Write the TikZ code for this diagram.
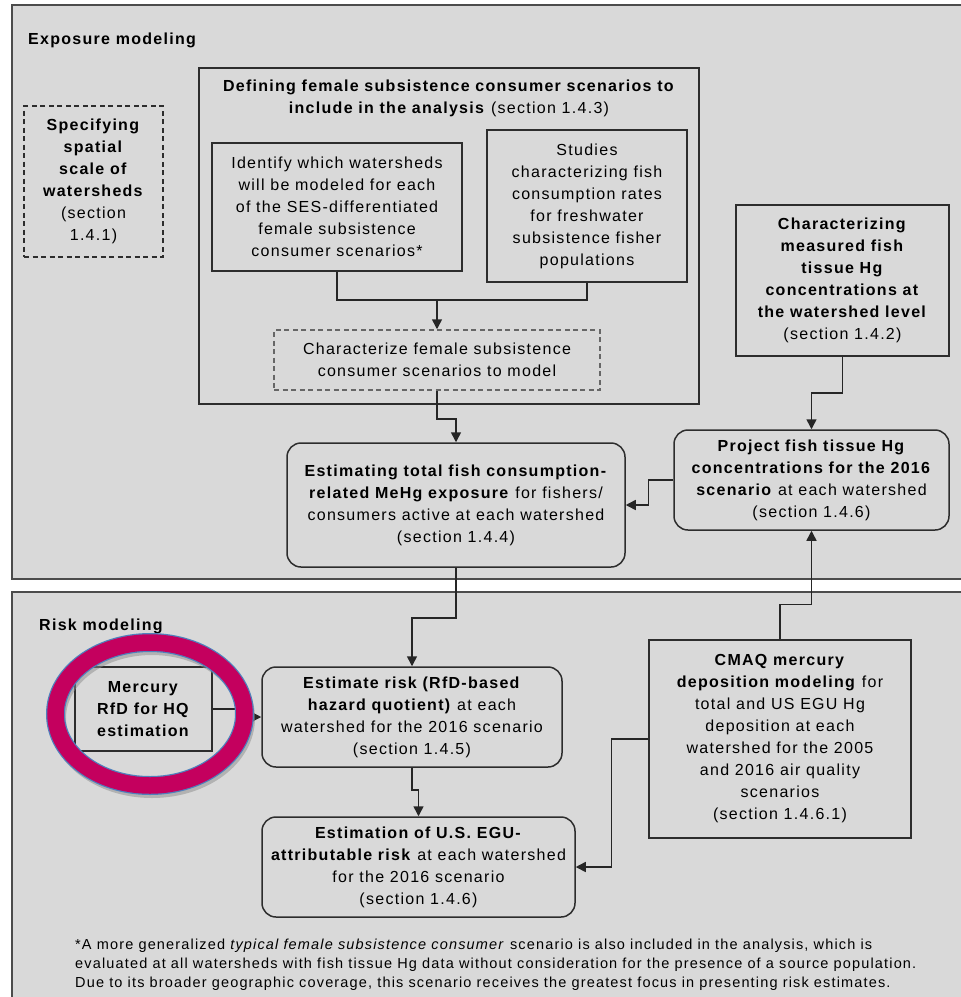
\documentclass[tikz,border=0pt]{standalone}
\usepackage{fontspec}
\setmainfont{Liberation Sans}[LetterSpace=8]
\usetikzlibrary{positioning, arrows.meta}
\definecolor{panelgray}{RGB}{217,217,217}
\definecolor{edgegray}{RGB}{45,45,45}
\definecolor{ringred}{RGB}{196,0,94}
\definecolor{ringblue}{RGB}{79,129,189}
\tikzset{
  box/.style={draw=edgegray, line width=1.5pt, align=center, inner sep=0pt},
  rbox/.style={box, rounded corners=14pt},
  dbox/.style={box, dash pattern=on 5pt off 3.5pt},
  link/.style={line width=1.5pt, black!85},
  arr/.style={link, -{Triangle[length=10pt,width=10pt]}},
  panel/.style={fill=panelgray, draw=black!70, line width=2pt},
  head/.style={anchor=base west, inner sep=0pt, font=\fontsize{16}{22}\selectfont\bfseries}
}

\begin{document}
\begin{tikzpicture}[x=1pt, y=-1pt, font=\fontsize{16}{22}\selectfont]
\useasboundingbox (0,0) rectangle (961,997);
% the two shaded panels
\draw[panel] (12,5) rectangle (990,579);
\draw[panel] (12,592) rectangle (990,1010);
\node[head] (expo) at (28,44) {Exposure modeling};
\node[head] (riskhead) at (39,630) {Risk modeling};

% exposure modeling
\node (spatial) [dbox, minimum width=139pt, minimum height=151pt] at (93.5,181.5)
  {\textbf{Specifying}\\ \textbf{spatial}\\ \textbf{scale of}\\ \textbf{watersheds}\\ (section\\ 1.4.1)};
\node (defining) [box, minimum width=500pt, minimum height=336pt] at (449,236) {};
\node (defhead) [below=9pt of defining.north, align=center]
  {\textbf{Defining female subsistence consumer scenarios to}\\ \textbf{include in the analysis} (section 1.4.3)};
\node (identify) [box, minimum width=250pt, minimum height=128pt] at (337,207)
  {Identify which watersheds\\ will be modeled for each\\ of the SES-differentiated\\ female subsistence\\ consumer scenarios*};
\node (studies) [box, minimum width=200pt, minimum height=152pt] at (587,206)
  {Studies\\ characterizing fish\\ consumption rates\\ for freshwater\\ subsistence fisher\\ populations};
\node (charact) [dbox, draw=black!60, minimum width=326pt, minimum height=60pt] at (437,360)
  {Characterize female subsistence\\ consumer scenarios to model};
\node (estimating) [rbox, minimum width=338pt, minimum height=124pt] at (456,505)
  {\textbf{Estimating total fish consumption-}\\ \textbf{related MeHg exposure} for fishers/\\ consumers active at each watershed\\ (section 1.4.4)};
\node (measured) [box, minimum width=213pt, minimum height=151pt] at (842.5,280.5)
  {\textbf{Characterizing}\\ \textbf{measured fish}\\ \textbf{tissue Hg}\\ \textbf{concentrations at}\\ \textbf{the watershed level}\\ (section 1.4.2)};
\node (project) [rbox, minimum width=275pt, minimum height=100pt] at (811.5,480)
  {\textbf{Project fish tissue Hg}\\ \textbf{concentrations for the 2016}\\ \textbf{scenario} at each watershed\\ (section 1.4.6)};

% risk modeling
\node (mercury) [box, minimum width=137pt, minimum height=84pt] at (143.5,709)
  {\textbf{Mercury}\\ \textbf{RfD for HQ}\\ \textbf{estimation}};
\node (risk) [rbox, minimum width=300pt, minimum height=100pt] at (412,717)
  {\textbf{Estimate risk (RfD-based}\\ \textbf{hazard quotient)} at each\\ watershed for the 2016 scenario\\ (section 1.4.5)};
\node (estimation) [rbox, minimum width=313pt, minimum height=100pt] at (418.5,867)
  {\textbf{Estimation of U.S. EGU-}\\ \textbf{attributable risk} at each watershed\\ for the 2016 scenario\\ (section 1.4.6)};
\node (cmaq) [box, minimum width=262pt, minimum height=198pt] at (780,739)
  {\textbf{CMAQ mercury}\\ \textbf{deposition modeling} for\\ total and US EGU Hg\\ deposition at each\\ watershed for the 2005\\ and 2016 air quality\\ scenarios\\ (section 1.4.6.1)};

% connectors
\coordinate (join) at (437,300);
\draw[link] (identify.south) |- (join) -| (studies.south);
\draw[arr] (join) -- (charact.north);
\draw[arr] (charact.south) -- ++(0,28) -| (estimating.north);
\draw[arr] (measured.south) -- ++(0,36) -| (project.north);
\draw[arr] (project.west) -- ++(-25,0) |- (estimating.east);
\draw[arr] (cmaq.north) -- ++(0,-35) -| (project.south);
\draw[arr] (estimating.south) -- ++(0,50) -| (risk.north);
\draw[arr] (mercury.east) -- ++(31,0) |- (risk.west);
\draw[arr] (risk.south) -- ++(0,22) -| (estimation.north);
\draw[arr] (cmaq.west) -- ++(-37,0) |- (estimation.east);

% highlight ring
\draw[black!45, opacity=0.5, line width=17pt] (152,718) ellipse [x radius=94.5pt, y radius=71.5pt];
\draw[ringblue, line width=19pt] (150,714) ellipse [x radius=94.5pt, y radius=71.5pt];
\draw[ringred, line width=16.5pt] (150,714) ellipse [x radius=94.5pt, y radius=71.5pt];

% footnote
\node (note) [anchor=north west, align=left, inner sep=0pt, font=\fontsize{14.5}{19}\selectfont] at (75,939)
  {*A more generalized \textit{typical female subsistence consumer} scenario is also included in the analysis, which is\\
   evaluated at all watersheds with fish tissue Hg data without consideration for the presence of a source population.\\
   Due to its broader geographic coverage, this scenario receives the greatest focus in presenting risk estimates.};
\end{tikzpicture}
\end{document}
